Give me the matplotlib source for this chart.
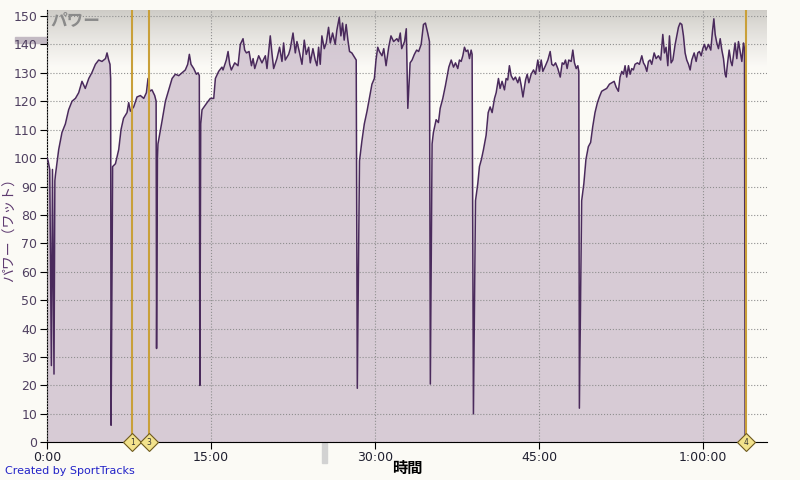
import numpy as np
import matplotlib
matplotlib.use("Agg")
import matplotlib.pyplot as plt
from matplotlib.patches import Rectangle

plt.rcParams['font.family'] = ['DejaVu Sans', 'Noto Sans CJK JP']

# Power data (minutes, watts)
time_min = [
    0.00, 0.10, 0.25, 0.40, 0.50, 0.64, 0.72, 0.77, 1.07, 1.37, 1.68, 1.98, 2.29, 2.60, 2.90,
    3.20, 3.50, 3.82, 4.10, 4.43, 4.73, 5.03, 5.35, 5.49, 5.64, 5.76, 5.82, 5.86,
    5.95, 6.00, 6.26, 6.56, 6.77, 7.00, 7.32, 7.47, 7.63, 7.93, 8.23, 8.54, 8.85, 9.09, 9.24,
    9.39, 9.60, 9.85, 9.98, 10.02,
    10.10, 10.15, 10.52, 10.83, 11.13, 11.44, 11.74, 12.05, 12.35, 12.65, 12.87, 13.02, 13.17,
    13.42, 13.66, 13.82, 13.93, 13.98,
    14.06, 14.18, 14.64, 14.94, 15.25, 15.40, 15.70, 16.00, 16.10, 16.40, 16.56, 16.71, 16.86,
    17.17, 17.47, 17.68, 17.93, 18.08, 18.24, 18.48, 18.70, 18.85, 19.00, 19.36, 19.66, 19.97,
    20.12, 20.42, 20.57, 20.73, 21.03, 21.27, 21.49, 21.64, 21.79, 22.10, 22.25, 22.50, 22.71,
    22.86, 23.10, 23.32, 23.53, 23.71, 23.93, 24.08, 24.32, 24.53, 24.69, 24.84, 24.99, 25.14,
    25.36, 25.54, 25.75, 25.91, 26.12, 26.36, 26.51, 26.73, 26.88, 27.03, 27.18, 27.36, 27.52,
    27.67, 27.88, 28.04, 28.28, 28.38,
    28.58, 28.80, 29.02, 29.27, 29.48, 29.72, 29.94, 30.09, 30.25, 30.40, 30.64, 30.80, 31.01,
    31.25, 31.46, 31.70, 32.00, 32.15, 32.31, 32.44, 32.70, 32.86, 33.00, 33.21, 33.39, 33.60,
    33.81, 33.99, 34.22, 34.43, 34.61, 34.82, 34.98, 35.06,
    35.22, 35.34, 35.59, 35.80, 35.96, 36.20, 36.44, 36.56, 36.75, 36.97, 37.18, 37.36, 37.57,
    37.72, 37.88, 38.03, 38.18, 38.33, 38.49, 38.64, 38.79, 38.88, 39.00,
    39.19, 39.40, 39.55, 39.73, 39.92, 40.16, 40.35, 40.53, 40.71, 40.93, 41.08, 41.29, 41.44,
    41.62, 41.84, 41.99, 42.14, 42.29, 42.45, 42.66, 42.84, 43.06, 43.22, 43.37, 43.53, 43.77,
    43.92, 44.07, 44.28, 44.50, 44.68, 44.89, 45.04, 45.20, 45.35, 45.59, 45.81, 46.02, 46.17,
    46.33, 46.51, 46.72, 46.94, 47.12, 47.27, 47.42, 47.57, 47.72, 47.94, 48.09, 48.24, 48.40,
    48.55, 48.64, 48.69,
    48.90, 49.10, 49.29, 49.51, 49.72, 49.91, 50.12, 50.34, 50.52, 50.73, 50.95, 51.19, 51.44,
    51.65, 51.87, 52.05, 52.26, 52.41, 52.57, 52.72, 52.87, 53.02, 53.18, 53.33, 53.48, 53.63,
    53.78, 54.00, 54.18, 54.40, 54.55, 54.70, 54.86, 55.01, 55.16, 55.31, 55.53, 55.71, 55.92,
    56.13, 56.32, 56.47, 56.62, 56.78, 56.93, 57.08, 57.24, 57.45, 57.60, 57.75, 57.90, 58.06,
    58.21, 58.36, 58.51, 58.67, 58.82, 58.97, 59.19, 59.37, 59.52, 59.67, 59.83, 59.98, 60.13,
    60.28, 60.50, 60.71, 60.86, 60.99, 61.11, 61.26, 61.41, 61.57, 61.72, 61.87, 62.02, 62.11,
    62.23, 62.39, 62.54, 62.66, 62.78, 62.93, 63.09, 63.24, 63.40, 63.55, 63.70, 63.79, 63.85,
]
power = [
    100, 99, 96, 27, 96, 24, 92, 94, 103, 109, 112, 117, 120, 121, 123,
    127, 124.5, 128, 130, 133, 134.5, 134, 135, 137, 134.5, 133, 128, 6,
    60, 97, 98, 103, 110, 114, 116, 119.5, 116.5, 118, 121.5, 122, 121, 123, 128,
    123.5, 124, 122, 120, 33,
    100, 105, 113, 120, 124, 128, 129.5, 129, 130, 131, 133, 136.5, 133,
    131.5, 129.5, 130, 129, 20,
    112, 117, 119.5, 121, 121, 128, 130.5, 132, 131, 134.5, 137.5, 133, 131,
    133.5, 132.5, 140, 142, 138, 137, 137.5, 132.5, 135, 131.5, 136, 133.5, 136,
    131.5, 143, 137, 131.5, 135, 139, 134, 140.5, 134.5, 136.5, 138.5, 144, 137,
    141, 137, 133, 141.5, 136.5, 139, 133.5, 138.5, 134.5, 132.5, 139, 133, 143,
    138.5, 140.5, 146, 140.5, 144, 140, 145, 149.5, 143, 147.5, 141.5, 147, 141.5,
    137.5, 137, 136, 134.5, 19,
    99, 106, 112, 116.5, 121, 126, 128, 134.5, 139, 137.5, 136, 138.5, 132.5,
    139, 143, 141, 142, 141, 144, 138.5, 141, 145.5, 117.5, 133.5, 134.5, 136.5,
    138, 137.5, 140, 147, 147.5, 144, 141, 20.5,
    105, 109, 113.5, 112.5, 117.5, 121, 125.5, 128, 132, 134.5, 132, 133.5, 131.5,
    134.5, 134, 136, 139, 137.5, 138, 135, 138, 136.5, 10,
    85, 91, 97, 99.5, 103, 108, 116, 118, 116, 121, 123, 128, 124.5,
    127, 124, 128, 127.5, 132.5, 129, 127.5, 128.5, 126.5, 128.5, 125.5, 121.5, 127.5,
    129.5, 126.5, 129.5, 131, 129.5, 134.5, 130.5, 134.5, 130.5, 132.5, 134.5, 137.5, 133,
    132.5, 133.5, 131.5, 128.5, 133.5, 133, 134.5, 131.5, 134.5, 134, 138, 133.5, 131.5,
    132.5, 130.5, 12,
    85, 91, 99.5, 104, 105.5, 111, 116, 119.5, 121.5, 123.5, 124, 124.5, 126,
    126.5, 127, 125, 123.5, 128.5, 130.5, 129.5, 132.5, 128.5, 132.5, 129.5, 131.5, 131,
    133, 133.5, 133, 136, 133.5, 132.5, 130.5, 134, 134.5, 133, 137, 135, 136,
    134.5, 143.5, 137, 139, 132.5, 143, 133.5, 134.5, 140, 143, 146, 147.5, 147,
    143, 137, 134.5, 133, 131, 134.5, 137, 134, 137, 137.5, 136, 138.5, 140,
    138, 140, 138, 144.5, 149, 143.5, 140.5, 138.5, 142, 138, 135, 129.5, 128.5,
    133, 138, 134, 132.5, 136, 140.5, 135, 141, 137.5, 134, 140.5, 138.5, 0,
]

# lap markers
marker_times = [7.8, 9.3, 63.9]
marker_labels = ["1", "3", "4"]

x_ticks = [0, 15, 30, 45, 60]
x_ticklabels = ["0:00", "15:00", "30:00", "45:00", "1:00:00"]
y_ticks = list(range(0, 151, 10))

bg = "#FBFAF5"
fig = plt.figure(figsize=(8, 4.8), dpi=100, facecolor=bg)
ax = fig.add_axes([47 / 800, 37.7 / 480, 720 / 800, 432.3 / 480])
ax.set_facecolor(bg)

xmax, ymax = 65.85, 152.1
ax.set_xlim(0, xmax)
ax.set_ylim(0, ymax)

# grey-to-white gradient band at the top
grad = np.linspace(0, 1, 100).reshape(-1, 1) ** 0.8
top_col = np.array([0.80, 0.79, 0.77])
bot_col = np.array([0.985, 0.98, 0.965])
img = (top_col + (bot_col - top_col) * grad).reshape(100, 1, 3)
ax.imshow(img, extent=[0, xmax, 132, ymax], aspect="auto", origin="upper", zorder=0)

ax.fill_between(time_min, power, 0, color="#CEC0CE", alpha=0.8, lw=0, zorder=1)
ax.plot(time_min, power, color="#4A2A5C", lw=1.1, zorder=3)

ax.grid(True, linestyle=":", color="#8f8f8f", lw=0.8, zorder=2)
ax.set_axisbelow(False)

for t, lab in zip(marker_times, marker_labels):
    ax.axvline(t, color="#C9A03A", lw=1.5, zorder=4)
    ax.plot(t, 0, marker="D", ms=9, mfc="#F2E28C", mec="#6E5A1E", mew=0.8,
            clip_on=False, zorder=6)
    ax.text(t, 0, lab, ha="center", va="center", fontsize=5.5, color="#333",
            clip_on=False, zorder=7)

for s in ["top", "right"]:
    ax.spines[s].set_visible(False)
ax.spines["left"].set_color("black")
ax.spines["bottom"].set_color("black")

ax.set_xticks(x_ticks)
ax.set_xticklabels(x_ticklabels)
ax.set_yticks(y_ticks)
ax.tick_params(axis="y", length=5, width=0.8, labelsize=9, labelcolor="#4F4060", pad=2)
ax.tick_params(axis="x", length=5, width=0.8, labelsize=9, labelcolor="#202030", pad=1)

ax.set_xlabel("時間", fontsize=11, fontweight="bold", color="black",
              family=["Noto Sans CJK JP", "DejaVu Sans"], va="center")
ax.xaxis.set_label_coords(0.5, -0.06)
ax.set_ylabel("パワー（ワット）", fontsize=10, color="#5E3A70",
              family=["Noto Sans CJK JP", "DejaVu Sans"], va="center")
ax.yaxis.set_label_coords(-0.051, 0.5)

ax.text(0.004, 0.998, "パワー", transform=ax.transAxes, ha="left", va="top",
        fontsize=12, fontweight="bold", color="#8a8a8a",
        family=["Noto Sans CJK JP", "DejaVu Sans"], zorder=8)

# small scroll indicators from the original UI
fig.add_artist(Rectangle((15 / 800, 1 - 43 / 480), 32 / 800, 6 / 480,
                         transform=fig.transFigure, color="#C3BAC3", zorder=-1))
fig.add_artist(Rectangle((322 / 800, 1 - 463 / 480), 5 / 800, 20 / 480,
                         transform=fig.transFigure, color="#D2D2D2", zorder=-1))

fig.text(5 / 800, 1 - 471 / 480, "Created by SportTracks", fontsize=8,
         color="#2323C8", va="center")

fig.savefig("out.png", dpi=100, facecolor=bg)
plt.close(fig)
